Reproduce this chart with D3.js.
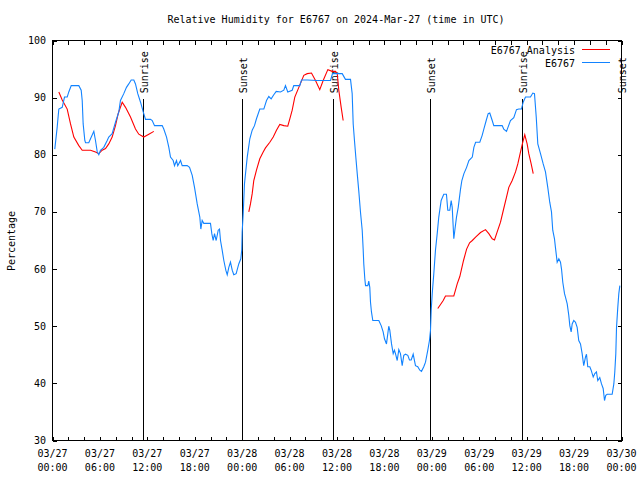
<!DOCTYPE html>
<html><head><meta charset="utf-8">
<script src="https://cdn.jsdelivr.net/npm/d3@7"></script>
<style>
body{margin:0;background:#fff}
svg text{font-family:"DejaVu Sans Mono",monospace;font-size:10px;fill:#000}
</style>
</head><body><svg id="c" width="640" height="480"></svg>
<script>
// ---------------- data ----------------
const title = "Relative Humidity for E6767 on 2024-Mar-27 (time in UTC)";
const yLabel = "Percentage";
const seriesNames = ["E6767 Analysis", "E6767"];
const seriesColors = ["#ff0000", "#1283ff"];
const yTicks = [30, 40, 50, 60, 70, 80, 90, 100];
const startDate = "2024-03-27T00:00:00Z";
const endDate = "2024-03-30T00:00:00Z";
const sunEvents = ["Sunrise", "Sunset", "Sunrise", "Sunset", "Sunrise", "Sunset"];
const sunHours = [11.55, 23.98, 35.60, 47.89, 59.47, 71.94];
const sunLineTopValue = 89.7;

// observed (hours after start, %)
const obsHours = [0.29,0.59,0.80,1.23,1.52,1.86,2.06,2.37,3.33,3.63,3.76,3.88,4.09,4.18,4.59,4.81,5.23,5.44,5.66,5.86,6.07,6.49,6.92,7.12,7.55,7.97,8.39,8.60,9.02,9.36,9.65,9.96,10.29,10.50,10.79,11.14,11.48,11.77,12.40,12.62,12.91,13.88,14.08,14.43,14.72,14.93,15.27,15.44,15.69,15.85,16.20,16.41,17.04,17.34,17.68,17.97,18.31,18.64,18.77,18.94,19.14,19.99,20.16,20.33,20.50,20.71,20.97,21.13,21.26,21.47,21.68,21.93,22.11,22.31,22.52,22.74,22.94,23.24,23.57,23.83,23.95,24.00,24.13,24.29,24.64,24.97,25.27,25.56,25.81,26.23,26.74,27.08,27.37,27.67,28.00,28.31,28.85,29.27,29.48,29.77,30.33,30.53,31.29,31.51,32.23,33.49,35.18,35.43,36.66,37.07,37.71,37.92,38.05,38.21,38.38,38.56,38.76,38.97,39.19,39.31,39.39,39.52,39.61,39.90,40.02,40.15,40.24,40.36,40.53,41.29,41.59,41.84,42.01,42.26,42.43,42.55,42.68,42.90,43.11,43.27,43.40,43.62,43.82,44.03,44.25,44.45,44.67,44.96,45.17,45.39,45.64,45.93,46.22,46.48,46.69,46.98,47.20,47.49,47.70,47.83,47.92,48.05,48.25,48.46,48.68,48.88,49.18,49.51,49.85,50.02,50.27,50.45,50.58,50.78,50.91,51.12,51.34,51.63,51.80,52.06,52.40,52.69,53.12,53.32,53.54,54.07,54.37,54.58,54.88,55.13,55.33,55.64,55.84,56.90,57.10,57.45,57.61,57.95,58.37,58.71,59.00,59.34,59.56,59.85,60.48,60.78,60.99,61.21,61.41,61.75,62.09,62.38,62.67,62.92,63.14,63.30,63.52,63.64,63.86,64.07,64.28,64.41,64.57,64.79,64.91,65.13,65.33,65.46,65.63,65.76,65.96,66.18,66.39,66.59,66.81,67.02,67.22,67.44,67.57,67.73,67.99,68.16,68.42,68.62,68.83,69.00,69.25,69.47,69.68,69.85,70.01,70.19,70.82,71.03,71.15,71.28,71.37,71.53,71.66,71.79];
const obsValues = [81,84.8,88,88.3,90.1,90.1,91,92.1,92.1,91.3,89.5,85.4,82.5,82.1,82.1,82.8,84.1,82.5,80.5,80,80.8,81.3,82.5,83.1,83.7,85.7,87.5,89.5,90.7,91.8,92.4,93.1,93.1,92.4,90.7,89.2,87.5,86.2,86.2,86,85.1,85.1,84.5,83.1,81.3,79.6,79,78.1,79,78.1,79,78.1,78.1,77.8,76.4,74.3,71.4,69.1,67,68.5,68,68,66.2,65,66.2,65,66.8,67,65,63.3,61.5,59.8,59,60.3,61.2,59.8,59,59.2,60.9,61.8,63.4,66.5,69.7,74.9,79.6,82.8,84.3,85.1,86.3,88,88,89.5,90.2,89.8,90.5,91.1,91,91.3,92.1,91,91.3,92.1,92.1,93.1,93.1,93,93,94.2,94.2,93.2,93.2,90.7,85.4,82.5,79.6,76.7,73.6,70,66.8,63.5,60.9,58.3,57.1,57.1,57.9,56.8,54.2,52.5,51,51,50.1,49,47.8,46.9,48.7,50,49.3,46.9,45.2,45.8,45.2,44,45.9,45.2,43.1,44.9,45.1,44.9,44.1,44.1,45.1,43.1,42.9,42.3,42.1,42.9,43.7,45.8,47.5,49.3,52.8,55.7,59.2,63.3,66.2,69.1,72,73.1,73.1,70.3,70.3,72,70.8,65.3,66.8,69.1,70.8,74,75.5,76.7,77.8,79,79.6,81.3,82.2,82.2,83.4,84.5,86,87.2,87.3,86,85.1,85.1,84.5,84.1,84.7,86,86.5,87.9,88,88,89.2,90.1,90.1,90.8,90.7,86.6,81.9,80.2,78.4,77,74.3,71.7,70,66.8,65.3,63.8,61.2,61.8,61.2,60,57.7,55.7,55.1,53.9,51.9,50.1,49,50.4,51,50.7,49.8,47.5,46.9,45.2,43.1,44.6,45.1,42.9,42.9,42.3,41.1,41.7,42,40.5,41,39.9,39.1,37,37.9,38.1,38.1,39.9,42,45.2,49.8,53.3,55.7,57.1];

// analysis (hours after start, %), null = gap
const anaHours = [0.80,1.23,1.86,2.28,2.70,3.33,3.76,4.81,5.44,5.86,6.29,6.71,7.12,7.55,7.97,8.31,8.82,9.24,9.87,10.50,10.92,11.55,12.19,12.82,
  18.00,
  24.84,25.05,25.27,25.47,25.81,26.23,26.66,26.95,27.50,27.93,28.34,28.76,29.27,29.77,30.03,30.33,30.66,31.17,31.80,32.23,32.77,33.28,33.82,34.25,34.84,35.39,35.81,36.03,36.23,36.53,36.78,
  42.00,
  48.75,49.10,49.44,49.73,50.78,50.99,51.21,51.54,52.01,52.40,52.78,53.12,53.54,54.16,54.79,55.21,55.64,55.93,56.27,56.69,57.10,57.45,57.74,58.17,58.59,58.88,59.22,59.51,59.76,60.06,60.27,60.57,60.83];
const anaValues = [91,89.6,88,85.4,83.1,81.6,80.8,80.8,80.5,80.2,80.8,81.1,81.9,83.1,85.1,87.2,89.2,88.3,86.6,84.5,83.6,83.1,83.6,84.1,
  null,
  70,71.4,73.2,75.5,77.3,79.3,80.5,81.2,82.2,83.1,84.3,85.3,85.1,85,86.3,87.8,90.1,91.8,93.9,94.2,94.3,93,91.4,93,94.9,94.6,94.6,94.2,91.3,88.3,86,
  null,
  53.1,53.8,54.5,55.3,55.3,56.3,57.4,58.7,61.5,63.5,64.6,65,65.6,66.4,66.9,66.2,65.3,65.1,66.5,68.2,70.6,72.6,74.3,75.5,77,78.4,80.5,82.2,83.5,81.9,80.2,78.4,76.7];

// ---------------- chart ----------------
const svg = d3.select("#c");
const t0 = new Date(startDate).getTime();
const toDate = h => new Date(t0 + h * 3600e3);

const x = d3.scaleUtc().domain([new Date(startDate), new Date(endDate)]).range([52.5, 621.5]);
const y = d3.scaleLinear().domain([30, 100]).range([440.5, 40.5]);

svg.append("rect").attr("width", 640).attr("height", 480).attr("fill", "#fff");

// title
svg.append("text").attr("x", 336).attr("y", 23).attr("text-anchor", "middle").text(title);

// y label
svg.append("text").attr("transform", "translate(15,241) rotate(-90)")
  .attr("text-anchor", "middle").text(yLabel);

const xTicks2 = x.ticks(d3.utcHour.every(2));

// ticks (inward, mirrored)
const axG = svg.append("g").attr("shape-rendering", "crispEdges");
axG.append("g").attr("transform", "translate(0,440.5)")
  .call(d3.axisBottom(x).ticks(d3.utcHour.every(2)).tickSizeInner(-4).tickSizeOuter(0).tickFormat(""))
  .call(g => g.select(".domain").remove());
axG.append("g").attr("transform", "translate(0,40.5)")
  .call(d3.axisTop(x).ticks(d3.utcHour.every(2)).tickSizeInner(-4).tickSizeOuter(0).tickFormat(""))
  .call(g => g.select(".domain").remove());
axG.append("g").attr("transform", "translate(52.5,0)")
  .call(d3.axisLeft(y).tickValues(yTicks).tickSizeInner(-4).tickSizeOuter(0).tickFormat(""))
  .call(g => g.select(".domain").remove());
axG.append("g").attr("transform", "translate(621.5,0)")
  .call(d3.axisRight(y).tickValues(yTicks).tickSizeInner(-4).tickSizeOuter(0).tickFormat(""))
  .call(g => g.select(".domain").remove());
axG.selectAll(".tick line").attr("stroke", "#000");

// y tick labels
svg.append("g").selectAll("text").data(yTicks).join("text")
  .attr("x", 46).attr("y", d => y(d)).attr("dy", "0.35em")
  .attr("text-anchor", "end").text(d => d);

// x tick labels (two lines)
const fmtD = d3.utcFormat("%m/%d"), fmtT = d3.utcFormat("%H:%M");
const xl = svg.append("g").selectAll("text").data(x.ticks(d3.utcHour.every(6))).join("text")
  .attr("text-anchor", "middle");
xl.append("tspan").attr("x", d => x(d)).attr("y", 457).text(d => fmtD(d));
xl.append("tspan").attr("x", d => x(d)).attr("y", 471).text(d => fmtT(d));

// sunrise / sunset lines
const sunG = svg.append("g");
sunG.selectAll("line").data(sunHours).join("line")
  .attr("shape-rendering", "crispEdges")
  .attr("x1", d => Math.round(x(toDate(d)) - 0.5) + 0.5)
  .attr("x2", d => Math.round(x(toDate(d)) - 0.5) + 0.5)
  .attr("y1", y(sunLineTopValue)).attr("y2", y(30))
  .attr("stroke", "#000").attr("stroke-width", 1);
sunG.selectAll("text").data(sunHours).join("text")
  .attr("transform", d => `translate(${x(toDate(d)) + 4.5},${y(sunLineTopValue) - 6}) rotate(-90)`)
  .attr("text-anchor", "start")
  .text((d, i) => sunEvents[i]);

// series
const ana = anaHours.map((h, i) => ({t: toDate(h), v: anaValues[i]}));
const obs = obsHours.map((h, i) => ({t: toDate(h), v: obsValues[i]}));
const line = d3.line().defined(d => d.v != null).x(d => x(d.t)).y(d => y(d.v));

svg.append("path").datum(ana).attr("d", line)
  .attr("fill", "none").attr("stroke", seriesColors[0]).attr("stroke-width", 1.1);
svg.append("path").datum(obs).attr("d", line)
  .attr("fill", "none").attr("stroke", seriesColors[1]).attr("stroke-width", 1.1);

// border
svg.append("rect").attr("x", 52.5).attr("y", 40.5).attr("width", 569).attr("height", 400)
  .attr("fill", "none").attr("stroke", "#000").attr("shape-rendering", "crispEdges");

// legend
const leg = svg.append("g");
seriesNames.forEach((n, i) => {
  const ly = 50 + i * 13;
  leg.append("text").attr("x", 575).attr("y", ly).attr("dy", "0.35em")
    .attr("text-anchor", "end").text(n);
  leg.append("line").attr("x1", 582).attr("x2", 610).attr("y1", ly - 0.5).attr("y2", ly - 0.5)
    .attr("stroke", seriesColors[i]).attr("shape-rendering", "crispEdges");
});
</script>
</body></html>
